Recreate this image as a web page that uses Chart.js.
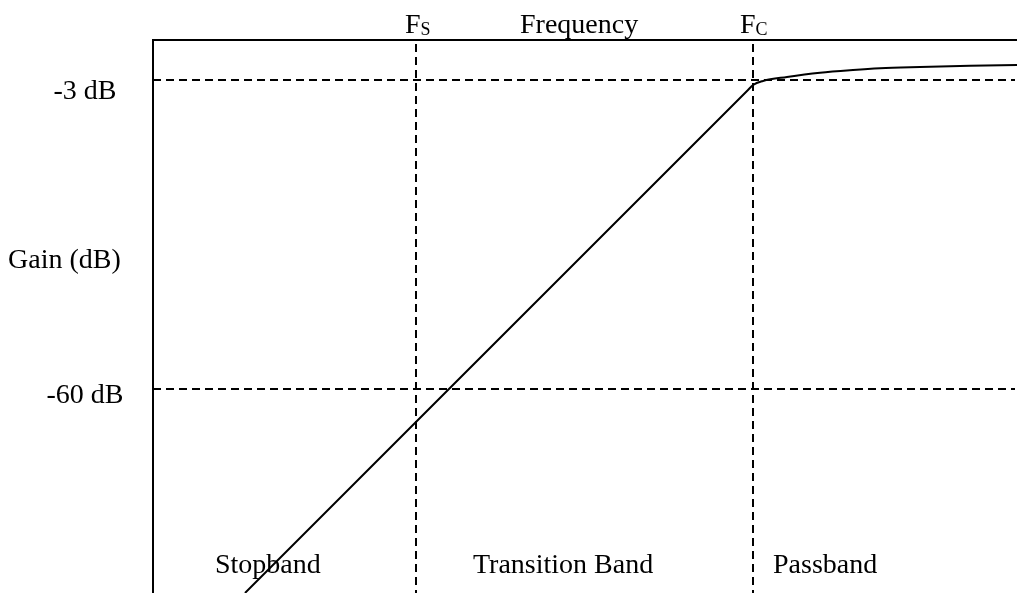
<!DOCTYPE html>
<html>
<head>
<meta charset="utf-8">
<title>Filter response</title>
<script src="https://cdn.jsdelivr.net/npm/chart.js@4/dist/chart.umd.min.js"></script>
<style>
  html, body { margin: 0; padding: 0; background: #fff; }
  #wrap { width: 1032px; height: 593px; }
</style>
</head>
<body>
<div id="wrap"><canvas id="filterChart"></canvas></div>
<script>
// frequency axis (arbitrary units), gain in dB
const freq = [0.92, 5.95, 6.00, 6.10, 6.34, 6.67, 7.00, 7.27, 7.67, 8.17, 8.64];
const gain = [-97.6, -4.82, -3.90, -3.16, -2.42, -1.63, -1.13, -0.82, -0.58, -0.34, -0.21];

// reference levels and frequencies
const levelValues = [-3, -60];
const levelLabels = ['-3 dB', '-60 dB'];
const markerValues = [2.63, 6.00];
const markerLabels = [['F', 'S'], ['F', 'C']];
const bandLabels = ['Stopband', 'Transition Band', 'Passband'];
const axisTitles = ['Frequency', 'Gain (dB)'];

const FONT = '"Liberation Serif", "Times New Roman", serif';

// draws the frame, dashed guides and all the text
const guidePlugin = {
    id: 'guides',
    beforeDatasetsDraw(chart) {
        const { ctx, chartArea: a, scales: { x, y } } = chart;
        ctx.save();
        ctx.strokeStyle = '#000';
        ctx.lineWidth = 2;

        // dashed guides
        ctx.setLineDash([8, 5]);
        levelValues.forEach(v => {
            const py = Math.round(y.getPixelForValue(v));
            ctx.beginPath();
            ctx.moveTo(a.left, py);
            ctx.lineTo(a.right - 2, py);
            ctx.stroke();
        });
        markerValues.forEach(v => {
            const px = Math.round(x.getPixelForValue(v));
            ctx.beginPath();
            ctx.moveTo(px, a.top + 4);
            ctx.lineTo(px, a.bottom);
            ctx.stroke();
        });

        // solid frame: top and left
        ctx.setLineDash([]);
        ctx.beginPath();
        ctx.moveTo(a.left, a.bottom);
        ctx.lineTo(a.left, a.top);
        ctx.lineTo(a.right, a.top);
        ctx.stroke();
        ctx.restore();
    },
    afterDraw(chart) {
        const { ctx, scales: { x, y } } = chart;
        ctx.save();
        ctx.fillStyle = '#000';
        ctx.textBaseline = 'alphabetic';
        ctx.font = '28px ' + FONT;

        // level labels, centred left of the axis
        const levelOffsets = [19, 14];
        ctx.textAlign = 'center';
        levelLabels.forEach((t, i) => {
            ctx.fillText(t, 85, y.getPixelForValue(levelValues[i]) + levelOffsets[i]);
        });

        ctx.textAlign = 'left';
        ctx.fillText(axisTitles[1], 8, 268);
        ctx.fillText(axisTitles[0], 520, 33);

        // F_S and F_C
        const markerShift = [-11, -13];
        markerLabels.forEach((parts, i) => {
            const px = x.getPixelForValue(markerValues[i]) + markerShift[i];
            ctx.font = '28px ' + FONT;
            ctx.fillText(parts[0], px, 33);
            const w = ctx.measureText(parts[0]).width;
            ctx.font = '18px ' + FONT;
            ctx.fillText(parts[1], px + w, 35);
        });

        // band names along the bottom
        ctx.font = '28px ' + FONT;
        const bandX = [215, 473, 773];
        bandLabels.forEach((t, i) => ctx.fillText(t, bandX[i], 573));
        ctx.restore();
    }
};

new Chart(document.getElementById('filterChart'), {
    type: 'scatter',
    data: {
        datasets: [{
            data: freq.map((f, i) => ({ x: f, y: gain[i] })),
            showLine: true,
            borderColor: '#000',
            borderWidth: 2,
            pointRadius: 0,
            cubicInterpolationMode: 'monotone',
            fill: false
        }]
    },
    options: {
        responsive: true,
        maintainAspectRatio: false,
        animation: false,
        layout: { padding: { left: 153, right: 15, top: 40, bottom: 0 } },
        plugins: {
            legend: { display: false },
            tooltip: { enabled: false }
        },
        scales: {
            x: { type: 'linear', min: 0, max: 8.64, display: false },
            y: { type: 'linear', min: -97.6, max: 4.4, display: false }
        }
    },
    plugins: [guidePlugin]
});
</script>
</body>
</html>
